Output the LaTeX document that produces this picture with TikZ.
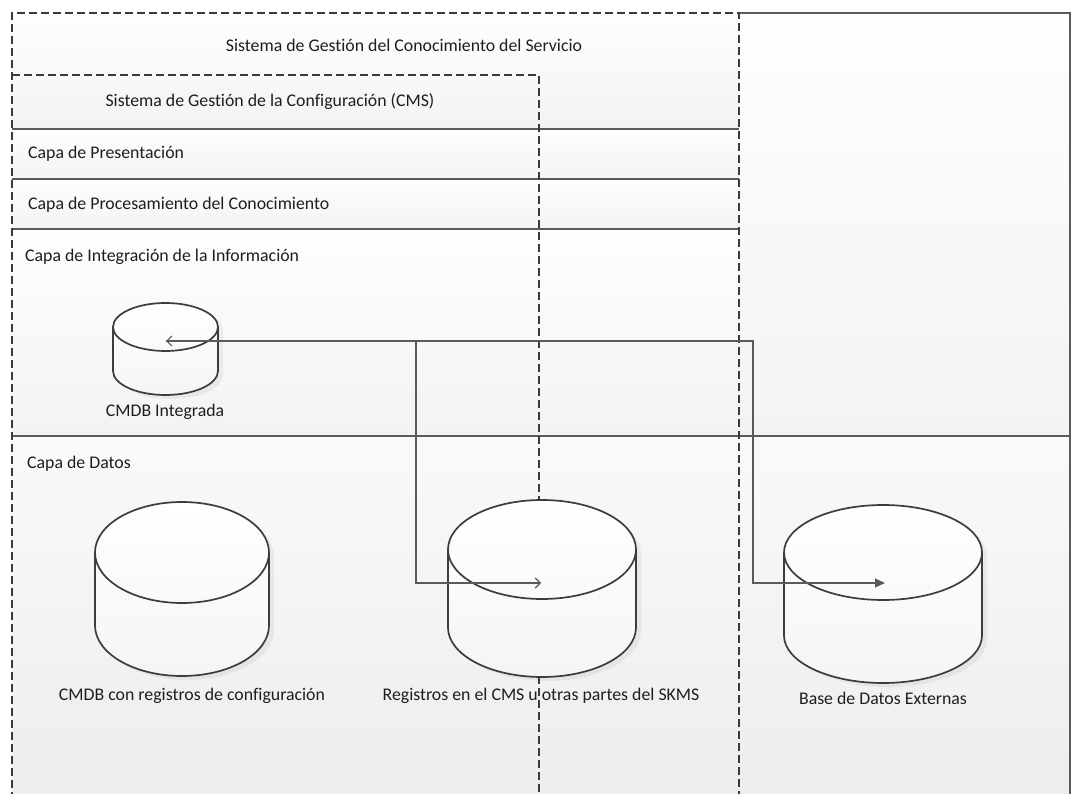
\documentclass[tikz,border=0pt]{standalone}
\usepackage{fontspec}
\setmainfont{Carlito}[Ligatures={NoCommon}]
\usetikzlibrary{arrows.meta}

\definecolor{inkline}{HTML}{5A5A5A}
\definecolor{dashink}{HTML}{3A3A3A}
\definecolor{cylink}{HTML}{3C3C3C}
\definecolor{txt}{HTML}{1E1E1E}
\definecolor{bandtop}{HTML}{FEFEFE}
\definecolor{bandbot}{HTML}{F3F3F3}
\definecolor{databot}{HTML}{EDEDED}

\tikzset{
  band/.style={top color=bandtop, bottom color=bandbot, draw=none},
  databand/.style={top color=bandtop!60!bandbot, bottom color=databot, draw=none},
  layerline/.style={draw=inkline, line width=1.2pt},
  dashbox/.style={draw=dashink, line width=1.1pt, dash pattern=on 8pt off 4pt},
  cylfill/.style={top color=white, bottom color=black!4},
  cylline/.style={draw=cylink, line width=1.7pt, line join=round},
  cylshadow/.style={fill=black, opacity=0.05},
  lbl/.style={font=\fontsize{17.8}{21}\selectfont, text=txt, inner sep=0pt},
  conn/.style={draw=inkline, line width=1.2pt},
  bothopen/.style={{Straight Barb[length=5pt,width=10pt]}-{Straight Barb[length=5pt,width=10pt]}},
  solidhead/.style={-{Triangle[length=10pt,width=9pt]}},
}

% database drum: name, centre x, top-ellipse centre y, x radius, y radius, body height
\newcommand{\dbdrum}[6]{%
  \path[cylshadow] (#2-#4+5,#3+4) -- (#2-#4+5,#3+#6+4)
     arc[start angle=180,end angle=0,x radius=#4,y radius=#5]
     -- (#2+#4+5,#3+4) arc[start angle=0,end angle=-180,x radius=#4,y radius=#5] -- cycle;
  \path[cylfill] (#2-#4,#3) -- (#2-#4,#3+#6)
     arc[start angle=180,end angle=0,x radius=#4,y radius=#5]
     -- (#2+#4,#3) arc[start angle=0,end angle=-180,x radius=#4,y radius=#5] -- cycle;
  \draw[cylline] (#2-#4,#3) -- (#2-#4,#3+#6)
     arc[start angle=180,end angle=0,x radius=#4,y radius=#5]
     -- (#2+#4,#3) arc[start angle=0,end angle=-180,x radius=#4,y radius=#5] -- cycle;
  \draw[cylline] (#2-#4,#3) arc[start angle=180,end angle=0,x radius=#4,y radius=#5];
  \node[inner sep=0pt, minimum width={2*#4pt}, minimum height={(2*#5+#6)*1pt}] (#1) at (#2,#3+#6/2) {};
}

\begin{document}
\begin{tikzpicture}[x=1pt,y=-1pt]
\useasboundingbox (0,0) rectangle (1071,794);
\fill[white] (0,0) rectangle (1071,794);

% shaded layers
\shade[band] (12,13) rectangle (739,129);
\shade[band] (12,129) rectangle (739,179);
\shade[band] (12,179) rectangle (739,229);
\shade[band] (12,229) rectangle (739,436);
\shade[band] (739,13) rectangle (1070,436);
\shade[databand] (12,436) rectangle (1070,794);

% layer separators and outer frame
\draw[layerline] (12,129) -- (739,129);
\draw[layerline] (12,179) -- (739,179);
\draw[layerline] (12,229) -- (739,229);
\draw[layerline] (12,436) -- (1070,436);
\draw[layerline] (739,13) -- (1070,13) -- (1070,800);

% system boundaries
\draw[dashbox] (12,800) -- (12,13) -- (739,13) -- (739,800);
\draw[dashbox] (12,75) -- (539,75) -- (539,800);

% titles and layer names
\node[lbl, anchor=base] (skms) at (404,52) {Sistema de Gestión del Conocimiento del Servicio};
\node[lbl, anchor=base] (cms) at (270,107) {Sistema de Gestión de la Configuración (CMS)};
\node[lbl, anchor=base west] (pres) at (28,159) {Capa de Presentación};
\node[lbl, anchor=base west] (proc) at (28,210) {Capa de Procesamiento del Conocimiento};
\node[lbl, anchor=base west] (integ) at (25,262) {Capa de Integración de la Información};
\node[lbl, anchor=base west] (datos) at (27,468) {Capa de Datos};

% databases
\dbdrum{cmdbI}{165.5}{327}{52.5}{24}{44}
\dbdrum{cmdbCR}{182}{552.5}{87}{50.5}{73}
\dbdrum{regs}{542}{549.5}{94}{49.5}{78}
\dbdrum{extdb}{883}{552.5}{99}{47.5}{83}

\node[lbl, anchor=base] (cmdbIlbl) at (165,416) {CMDB Integrada};
\node[lbl, anchor=base] (cmdbCRlbl) at (192,700) {CMDB con registros de configuración};
\node[lbl, anchor=base] (regslbl) at (541,700) {Registros en el CMS u otras partes del SKMS};
\node[lbl, anchor=base] (extdblbl) at (883,704) {Base de Datos Externas};

% connector ends and bends
\coordinate (cmdbI-in) at (166,341);
\coordinate (regs-in) at (541,583);
\coordinate (extdb-in) at (885,583);
\coordinate (busA) at (416,341);
\coordinate (busB) at (753,341);

\draw[conn, bothopen] (cmdbI-in) -- (busA) |- (regs-in);
\draw[conn, solidhead] (cmdbI-in) -- (busB) |- (extdb-in);
\end{tikzpicture}
\end{document}
